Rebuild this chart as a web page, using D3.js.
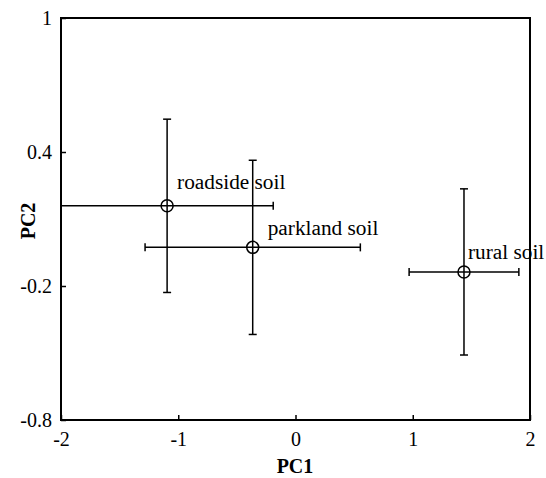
<!DOCTYPE html>
<html><head><meta charset="utf-8">
<script src="https://cdn.jsdelivr.net/npm/d3@7"></script>
<style>body{margin:0;background:#fff}svg{display:block}text{font-family:"Liberation Serif","DejaVu Serif",serif}</style>
</head><body>
<script>
const labels = ["roadside soil","parkland soil","rural soil"];
const pc1 = [-1.095, -0.365, 1.437];
const pc2 = [0.159, -0.027, -0.137];
const pc1Err = [0.905, 0.918, 0.468];
const pc2Err = [0.388, 0.390, 0.372];
const xTicks = [-2,-1,0,1,2];
const yTicks = [-0.8,-0.2,0.4,1];

const W=546,H=478;
const svg=d3.select("body").append("svg").attr("width",W).attr("height",H);
const x=d3.scaleLinear().domain([-2,2]).range([61,530]);
const y=d3.scaleLinear().domain([-0.8,1]).range([420,18]);

svg.append("rect").attr("x",61).attr("y",18).attr("width",469).attr("height",402)
  .attr("fill","none").attr("stroke","#000").attr("stroke-width",2);

const gx=svg.append("g").attr("transform","translate(0,420)")
  .call(d3.axisBottom(x).tickValues(xTicks).tickSize(-5).tickPadding(12).tickFormat(d=>String(d)));
const gy=svg.append("g").attr("transform","translate(61,0)")
  .call(d3.axisLeft(y).tickValues(yTicks).tickSize(-5).tickPadding(9).tickFormat(d=>String(d)));
[gx,gy].forEach(g=>{
  g.attr("font-size",20).attr("font-family","Liberation Serif");
  g.select(".domain").remove();
  g.selectAll(".tick line").attr("stroke","#000").attr("stroke-width",1.5);
  g.selectAll(".tick text").attr("fill","#000");
});

svg.append("text").attr("x",295).attr("y",473).attr("text-anchor","middle")
  .attr("font-size",20).attr("font-weight","bold").text("PC1");
svg.append("text").attr("transform","translate(35,221) rotate(-90)").attr("text-anchor","middle")
  .attr("font-size",20).attr("font-weight","bold").text("PC2");

const data=labels.map((l,i)=>({l,x:pc1[i],y:pc2[i],ex:pc1Err[i],ey:pc2Err[i]}));
const cap=4;
const g=svg.append("g").attr("stroke","#000").attr("stroke-width",1.5).attr("fill","none");
data.forEach(d=>{
  const cx=x(d.x), cy=y(d.y);
  const x0=x(d.x-d.ex), x1=x(d.x+d.ex), y0=y(d.y+d.ey), y1=y(d.y-d.ey);
  g.append("line").attr("x1",x0).attr("x2",x1).attr("y1",cy).attr("y2",cy);
  g.append("line").attr("x1",x0).attr("x2",x0).attr("y1",cy-cap).attr("y2",cy+cap);
  g.append("line").attr("x1",x1).attr("x2",x1).attr("y1",cy-cap).attr("y2",cy+cap);
  g.append("line").attr("x1",cx).attr("x2",cx).attr("y1",y0).attr("y2",y1);
  g.append("line").attr("x1",cx-cap).attr("x2",cx+cap).attr("y1",y0).attr("y2",y0);
  g.append("line").attr("x1",cx-cap).attr("x2",cx+cap).attr("y1",y1).attr("y2",y1);
  g.append("circle").attr("cx",cx).attr("cy",cy).attr("r",6);
});
const lblOff=[[10,-17],[15,-12],[4,-13]];
svg.selectAll("text.lbl").data(data).enter().append("text").attr("class","lbl")
  .attr("x",(d,i)=>x(d.x)+lblOff[i][0]).attr("y",(d,i)=>y(d.y)+lblOff[i][1])
  .attr("font-size",21.3).text(d=>d.l);
</script>
</body></html>
